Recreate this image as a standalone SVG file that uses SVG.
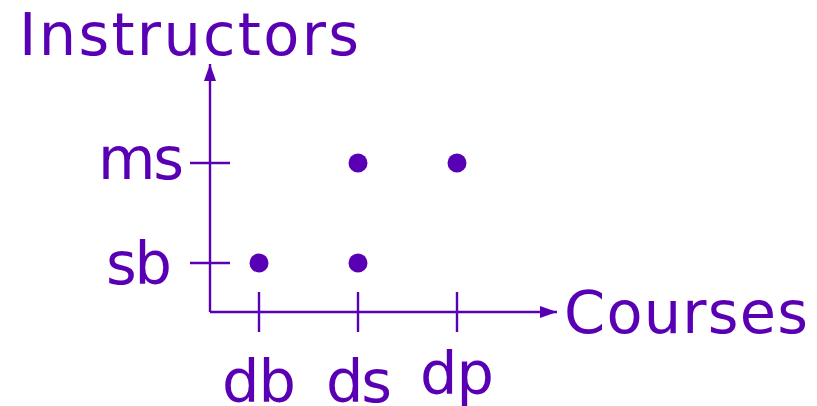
<svg xmlns="http://www.w3.org/2000/svg" width="817" height="406" viewBox="0 0 817 406">
<style>
.ax{stroke:#5a00b4;stroke-width:2.4;fill:none}
.lbl{font-family:"DejaVu Sans",sans-serif;font-size:59px;fill:#5a00b4}
.dot{fill:#5a00b4}
</style>
<defs>
<marker id="arr" markerWidth="17" markerHeight="12" refX="17" refY="6" orient="auto" markerUnits="userSpaceOnUse">
<path d="M0,0 L17,6 L0,12 Z" fill="#5a00b4"/>
</marker>
</defs>
<rect width="817" height="406" fill="#fff"/>
<g id="connectors">
<path class="ax" d="M210,312 L210,64" marker-end="url(#arr)"/>
<path class="ax" d="M210,312 L557,312" marker-end="url(#arr)"/>
<path class="ax" d="M190,163 H230 M190,263 H230 M259,292 V332 M358,292 V332 M457,292 V332"/>
</g>
<g id="axis-y-label"><text class="lbl" x="19" y="55" textLength="340" lengthAdjust="spacing">Instructors</text></g>
<g id="axis-x-label"><text class="lbl" x="564" y="333" textLength="244" lengthAdjust="spacing">Courses</text></g>
<g id="label-ms"><text class="lbl" x="98" y="179" textLength="86" lengthAdjust="spacing">ms</text></g>
<g id="label-sb"><text class="lbl" x="106" y="284" textLength="66" lengthAdjust="spacing">sb</text></g>
<g id="label-db"><text class="lbl" x="222" y="402" textLength="74" lengthAdjust="spacing">db</text></g>
<g id="label-ds"><text class="lbl" x="326" y="402" textLength="66" lengthAdjust="spacing">ds</text></g>
<g id="label-dp"><text class="lbl" x="420" y="394" textLength="74" lengthAdjust="spacing">dp</text></g>
<g id="point-db-sb"><circle class="dot" cx="259" cy="263" r="9.5"/></g>
<g id="point-ds-sb"><circle class="dot" cx="358" cy="263" r="9.5"/></g>
<g id="point-ds-ms"><circle class="dot" cx="358" cy="163" r="9.5"/></g>
<g id="point-dp-ms"><circle class="dot" cx="457" cy="163" r="9.5"/></g>
</svg>
